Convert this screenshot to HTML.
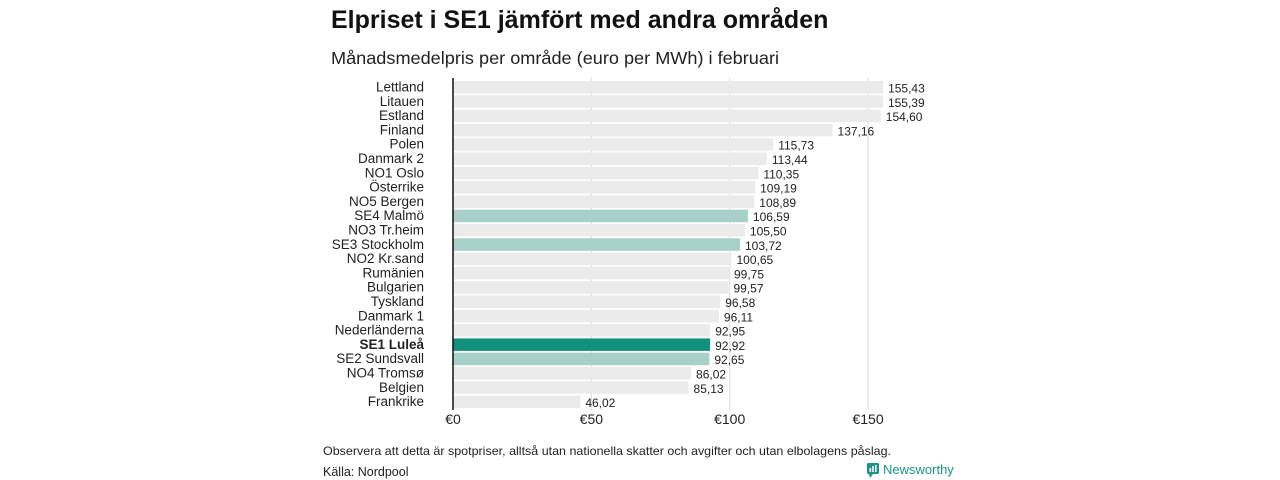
<!DOCTYPE html>
<html><head><meta charset="utf-8"><style>
body{margin:0;background:#fff;width:1280px;height:480px;overflow:hidden;font-family:"Liberation Sans","DejaVu Sans",sans-serif;}
svg{display:block}
</style></head><body>
<svg id="c" width="1280" height="480">
<text x="331" y="28" font-size="25" font-weight="bold" fill="#111">Elpriset i SE1 jämfört med andra områden</text>
<text x="331" y="64" font-size="17.5" fill="#222" textLength="448" lengthAdjust="spacingAndGlyphs">Månadsmedelpris per område (euro per MWh) i februari</text>
<g id="grid"></g><g id="bars"></g><g id="labels"></g><g id="ticks"></g>
<text x="323" y="455" font-size="12" fill="#222" textLength="568" lengthAdjust="spacingAndGlyphs">Observera att detta är spotpriser, alltså utan nationella skatter och avgifter och utan elbolagens påslag.</text>
<text x="323" y="476" font-size="12.5" fill="#222">Källa: Nordpool</text>
<g>
<rect x="867" y="463" width="12" height="11" rx="1.5" fill="#1a9482"/>
<polygon points="869,474 873,474 870,478" fill="#1a9482"/>
<rect x="869.5" y="468" width="1.6" height="4" fill="#fff"/><rect x="872.2" y="466" width="1.6" height="6" fill="#fff"/><rect x="875" y="465" width="1.6" height="7" fill="#fff"/>
<text x="883" y="474" font-size="13" fill="#1a9482">Newsworthy</text>
</g>
</svg>
<script>
const categories=["Lettland","Litauen","Estland","Finland","Polen","Danmark 2","NO1 Oslo","Österrike","NO5 Bergen","SE4 Malmö","NO3 Tr.heim","SE3 Stockholm","NO2 Kr.sand","Rumänien","Bulgarien","Tyskland","Danmark 1","Nederländerna","SE1 Luleå","SE2 Sundsvall","NO4 Tromsø","Belgien","Frankrike"];
const values=[155.43,155.39,154.60,137.16,115.73,113.44,110.35,109.19,108.89,106.59,105.50,103.72,100.65,99.75,99.57,96.58,96.11,92.95,92.92,92.65,86.02,85.13,46.02];
const tickValues=[0,50,100,150];
const tickLabels=["€0","€50","€100","€150"];
const ns="http://www.w3.org/2000/svg";
const x0=453,pxPer=2.767,top0=81,pitch=14.3,bh=12.5;
const xs=v=>x0+v*pxPer, ys=i=>top0+i*pitch;
function mk(t,a,p){const e=document.createElementNS(ns,t);for(const k in a)e.setAttribute(k,a[k]);document.getElementById(p).appendChild(e);return e;}
tickValues.forEach((v,i)=>{
 if(v>0){const g=mk("line",{x1:xs(v),x2:xs(v),y1:78,y2:410,stroke:"#dcdcdc","stroke-width":1},"grid");
 
 }
 const t=mk("text",{x:xs(v),y:424,"font-size":14,"text-anchor":"middle",fill:"#222"},"ticks");t.textContent=tickLabels[i];
 
 
});
categories.forEach((c,i)=>{
 const v=values[i];
 let fill="#ebebeb";
 if(c.startsWith("SE1"))fill="#13917f";else if(c.startsWith("SE"))fill="#a7d0c9";
 const r=mk("rect",{x:x0,y:ys(i),width:xs(v)-x0,height:bh,fill:fill},"bars");
 
 
 const l=mk("text",{x:424,y:ys(i)+10.5,"font-size":13.5,"text-anchor":"end",fill:"#222"},"labels");
 l.textContent=c;
 if(c.startsWith("SE1")){l.setAttribute("font-weight","bold");}
 
 
 const vl=mk("text",{x:xs(v)+5,y:ys(i)+11.5,"font-size":12,fill:"#222"},"labels");
 vl.textContent=v.toFixed(2).replace(".",",");
 
 
});
const ax=mk("line",{x1:x0,x2:x0,y1:78,y2:410,stroke:"#111","stroke-width":1.5},"ticks");


</script>
</body></html>
